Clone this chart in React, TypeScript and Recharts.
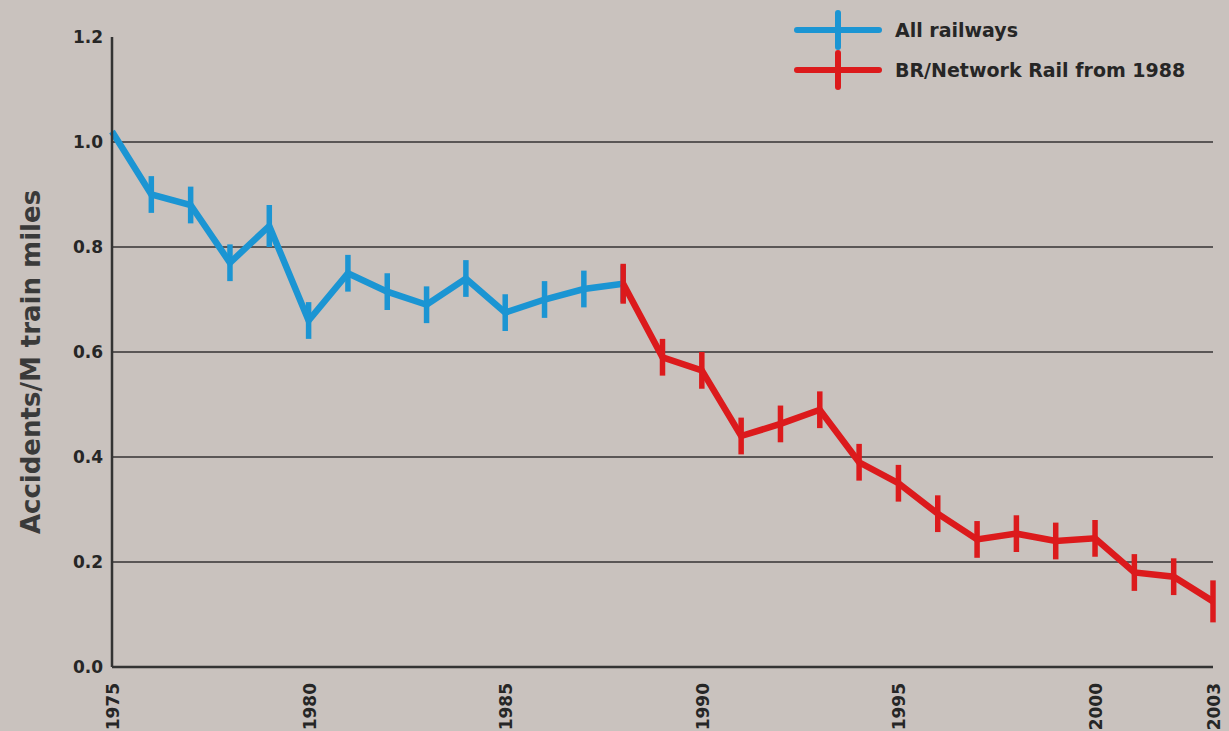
import React from 'react';
import { LineChart, Line, XAxis, YAxis, ErrorBar, ReferenceLine, Label } from 'recharts';

const blueYears = [1975, 1976, 1977, 1978, 1979, 1980, 1981, 1982, 1983, 1984, 1985, 1986, 1987, 1988];
const blueValues = [1.02, 0.90, 0.88, 0.77, 0.84, 0.66, 0.75, 0.715, 0.69, 0.74, 0.675, 0.70, 0.72, 0.73];
const blueErrors = [0, 0.035, 0.035, 0.035, 0.04, 0.035, 0.035, 0.035, 0.035, 0.035, 0.035, 0.035, 0.035, 0.035];

const redYears = [1988, 1989, 1990, 1991, 1992, 1993, 1994, 1995, 1996, 1997, 1998, 1999, 2000, 2001, 2002, 2003];
const redValues = [0.73, 0.59, 0.565, 0.44, 0.463, 0.49, 0.39, 0.35, 0.292, 0.243, 0.254, 0.24, 0.245, 0.18, 0.172, 0.125];
const redErrors = [0.038, 0.035, 0.035, 0.035, 0.035, 0.035, 0.035, 0.035, 0.035, 0.035, 0.035, 0.035, 0.035, 0.035, 0.035, 0.04];

const xTicks = [1975, 1980, 1985, 1990, 1995, 2000, 2003];
const yTicks = [0, 0.2, 0.4, 0.6, 0.8, 1.0, 1.2];
const gridValues = [0.2, 0.4, 0.6, 0.8, 1.0];

const seriesNames = ['All railways', 'BR/Network Rail from 1988'];
const seriesColors = ['#1b95d3', '#dc1a1c'];
const yAxisTitle = 'Accidents/M train miles';

const blueData = blueYears.map((year, i) => ({ year, value: blueValues[i], err: blueErrors[i] }));
const redData = redYears.map((year, i) => ({ year, value: redValues[i], err: redErrors[i] }));

const FONT = '"DejaVu Sans", sans-serif';
const TEXT = '#262626';

const XTick = (props: any) => {
  const { x, y, payload } = props;
  const tx = x + 1;
  const ty = y + 8;
  return (
    <text
      x={tx}
      y={ty}
      transform={`rotate(-90 ${tx} ${ty})`}
      textAnchor="end"
      dominantBaseline="central"
      fontFamily={FONT}
      fontWeight="bold"
      fontSize={17}
      fill={TEXT}
    >
      {payload.value}
    </text>
  );
};

const YTitle = (props: any) => {
  const vb = props.viewBox || { x: 0, y: 0, width: 112, height: 633 };
  const cx = vb.x + 31;
  const cy = vb.y + vb.height / 2 + 10;
  return (
    <text
      x={cx}
      y={cy}
      transform={`rotate(-90 ${cx} ${cy})`}
      textAnchor="middle"
      dominantBaseline="central"
      fontFamily={FONT}
      fontWeight="bold"
      fontSize={26}
      fill="#3a3a3a"
    >
      {yAxisTitle}
    </text>
  );
};

const ChartLegend = () => (
  <div style={{ position: 'absolute', left: 793, top: 10 }}>
    {seriesNames.map((name, i) => (
      <div key={name} style={{ display: 'flex', alignItems: 'center', height: 40 }}>
        <svg width={90} height={40} style={{ display: 'block' }}>
          <line x1={4} y1={20} x2={86} y2={20} stroke={seriesColors[i]} strokeWidth={6} strokeLinecap="round" />
          <line x1={45} y1={3} x2={45} y2={37} stroke={seriesColors[i]} strokeWidth={6} strokeLinecap="round" />
        </svg>
        <span
          style={{
            marginLeft: 12,
            fontFamily: FONT,
            fontWeight: 'bold',
            fontSize: 19,
            color: TEXT,
            whiteSpace: 'nowrap',
          }}
        >
          {name}
        </span>
      </div>
    ))}
  </div>
);

export default function App() {
  return (
    <div
      style={{
        position: 'absolute',
        left: 0,
        top: 0,
        width: 1229,
        height: 731,
        background: '#c9c2be',
      }}
    >
      <LineChart
        width={1229}
        height={731}
        margin={{ top: 37, right: 16, left: 0, bottom: 0 }}
      >
        <XAxis
          dataKey="year"
          type="number"
          domain={[1975, 2003]}
          ticks={xTicks}
          tick={<XTick />}
          tickLine={false}
          height={64}
          axisLine={{ stroke: '#333', strokeWidth: 2.5 }}
          allowDuplicatedCategory={false}
        />
        <YAxis
          type="number"
          domain={[0, 1.2]}
          ticks={yTicks}
          width={112}
          tickLine={false}
          tickSize={0}
          tickMargin={9}
          tickFormatter={(v: number) => v.toFixed(1)}
          tick={{ fontFamily: FONT, fontWeight: 'bold', fontSize: 17, fill: TEXT }}
          axisLine={{ stroke: '#333', strokeWidth: 2.5 }}
        >
          <Label content={<YTitle />} />
        </YAxis>
        {gridValues.map((v) => (
          <ReferenceLine key={v} y={v} stroke="#5a5656" strokeWidth={2} />
        ))}
        <Line
          data={blueData}
          dataKey="value"
          name={seriesNames[0]}
          stroke={seriesColors[0]}
          strokeWidth={6.5}
          dot={false}
          isAnimationActive={false}
          strokeLinejoin="miter"
        >
          <ErrorBar dataKey="err" width={0} stroke={seriesColors[0]} strokeWidth={5.5} direction="y" isAnimationActive={false} />
        </Line>
        <Line
          data={redData}
          dataKey="value"
          name={seriesNames[1]}
          stroke={seriesColors[1]}
          strokeWidth={6.5}
          dot={false}
          isAnimationActive={false}
          strokeLinejoin="miter"
        >
          <ErrorBar dataKey="err" width={0} stroke={seriesColors[1]} strokeWidth={5.5} direction="y" isAnimationActive={false} />
        </Line>
      </LineChart>
      <ChartLegend />
    </div>
  );
}
